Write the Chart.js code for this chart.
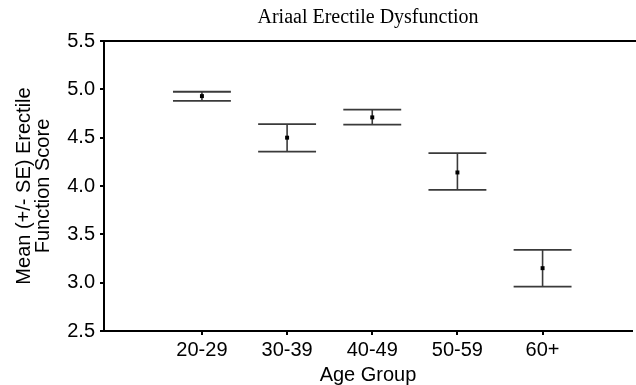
<!DOCTYPE html>
<html>
<head>
<meta charset="utf-8">
<script src="https://cdn.jsdelivr.net/npm/chart.js@4/dist/chart.umd.min.js"></script>
<style>
html,body{margin:0;padding:0;background:#fff;}
#wrap{width:636px;height:385px;position:relative;}
</style>
</head>
<body>
<div id="wrap"><canvas id="c" width="636" height="385"></canvas></div>
<script>
const categories = ['20-29', '30-39', '40-49', '50-59', '60+'];
const positions = [1, 2, 3, 4, 5];
const means = [4.93, 4.50, 4.71, 4.14, 3.15];
const upper = [4.975, 4.64, 4.79, 4.34, 3.34];
const lower = [4.88, 4.355, 4.635, 3.96, 2.96];
const yTicks = [2.5, 3.0, 3.5, 4.0, 4.5, 5.0, 5.5];

const errorBars = {
  id: 'errorBars',
  beforeDatasetsDraw(chart) {
    const ctx = chart.ctx, xs = chart.scales.x, ys = chart.scales.y;
    ctx.save();
    ctx.strokeStyle = '#3a3a3a';
    for (let i = 0; i < means.length; i++) {
      const px = xs.getPixelForValue(positions[i]);
      const hw = (xs.getPixelForValue(positions[i] + 0.34) - px);
      const yt = ys.getPixelForValue(upper[i]);
      const yb = ys.getPixelForValue(lower[i]);
      ctx.lineWidth = 1.6;
      ctx.beginPath(); ctx.moveTo(px, yt); ctx.lineTo(px, yb); ctx.stroke();
      ctx.lineWidth = 1.8;
      ctx.beginPath(); ctx.moveTo(px - hw, yt); ctx.lineTo(px + hw, yt); ctx.stroke();
      ctx.beginPath(); ctx.moveTo(px - hw, yb); ctx.lineTo(px + hw, yb); ctx.stroke();
    }
    // top frame line
    const top = ys.getPixelForValue(yTicks[yTicks.length - 1]);
    ctx.strokeStyle = '#000';
    ctx.lineWidth = 2;
    ctx.beginPath(); ctx.moveTo(chart.chartArea.left, top); ctx.lineTo(chart.width, top); ctx.stroke();
    ctx.restore();
  }
};

new Chart(document.getElementById('c'), {
  type: 'scatter',
  data: {
    datasets: [{
      data: positions.map((p, i) => ({x: p, y: means[i]})),
      pointStyle: 'rect',
      pointRadius: 2.8,
      backgroundColor: '#000',
      borderColor: '#000',
      borderWidth: 0
    }]
  },
  options: {
    responsive: false,
    animation: false,
    layout: {padding: {left: 0, right: 0, top: 0, bottom: 0}},
    plugins: {
      legend: {display: false},
      tooltip: {enabled: false},
      title: {
        display: true,
        text: 'Ariaal Erectile Dysfunction',
        fullSize: false,
        color: '#000',
        font: {family: 'Liberation Serif', size: 20, weight: 'normal', lineHeight: 1.2},
        padding: {top: 6, bottom: 11}
      }
    },
    scales: {
      x: {
        type: 'linear',
        min: -0.15,
        max: 6.05,
        afterBuildTicks: (s) => { s.ticks = positions.map(v => ({value: v})); },
        afterFit: (s) => { s.height = 54; s.paddingLeft = 0; s.paddingRight = 0; },
        ticks: {
          color: '#000',
          font: {family: 'Liberation Sans', size: 20, lineHeight: 1.2},
          padding: 3,
          maxRotation: 0,
          autoSkip: false,
          callback: (v) => categories[positions.indexOf(v)] ?? ''
        },
        grid: {display: true, drawOnChartArea: false, drawTicks: true, tickLength: 4, color: '#000', lineWidth: 2},
        border: {display: true, color: '#000', width: 2},
        title: {display: true, text: 'Age Group', color: '#000', font: {family: 'Liberation Sans', size: 20, lineHeight: 1.0}, padding: {top: 0, bottom: 0}}
      },
      y: {
        min: 2.5,
        max: 5.5,
        afterBuildTicks: (s) => { s.ticks = yTicks.map(v => ({value: v})); },
        afterFit: (s) => { s.width = 104; },
        ticks: {
          color: '#000',
          font: {family: 'Liberation Sans', size: 20},
          padding: 5,
          callback: (v) => v.toFixed(1)
        },
        grid: {display: true, drawOnChartArea: false, drawTicks: true, tickLength: 4, color: '#000', lineWidth: 2},
        border: {display: true, color: '#000', width: 2},
        title: {display: true, text: ['Mean (+/- SE) Erectile', 'Function Score'], color: '#000', font: {family: 'Liberation Sans', size: 20, lineHeight: 0.95}, padding: {top: 15, bottom: 0}}
      }
    }
  },
  plugins: [errorBars]
});
</script>
</body>
</html>
